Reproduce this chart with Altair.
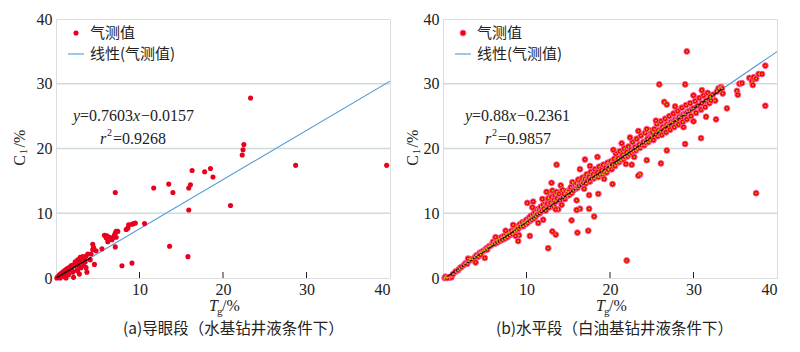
import altair as alt
import pandas as pd

# ---------------- data ----------------
# Panel (a): 导眼段
a_tg = [39.6, 28.7, 23.3, 22.5, 22.4, 22.3, 20.9, 18.8, 18.5, 17.8, 16.3, 16.1, 15.9, 15.9, 15.8,
        14.0, 13.5, 13.6, 11.7, 10.6, 9.5, 9.3, 9.1, 8.7, 8.6, 8.4, 9.1, 7.9, 7.1, 7.2, 7.4, 7.1,
        7.0, 7.2, 7.1, 6.8, 6.4, 6.1, 5.8, 6.0, 6.2, 6.7, 5.5, 4.4, 4.5, 4.8, 4.4, 4.6, 3.7, 4.1,
        4.2, 3.8, 3.6, 3.4, 3.2, 3.0, 2.9, 2.8, 2.6, 2.5, 2.4, 2.3, 2.2, 2.0, 1.9, 1.8, 1.7, 1.6,
        1.5, 1.4, 1.3, 1.2, 1.1, 1.0, 0.9, 0.8, 0.7, 0.6, 0.5, 0.4, 0.3, 0.2, 0.1, 0.5, 1.0, 1.5,
        2.0, 2.5, 3.0, 3.3, 2.1, 1.2, 2.8, 3.5, 2.7, 1.9, 3.6, 2.6]
a_c1 = [17.4, 17.4, 27.8, 20.6, 19.8, 19.0, 11.2, 15.6, 16.9, 16.4, 16.6, 14.4, 13.9, 10.5, 3.3,
        13.2, 14.5, 4.9, 13.9, 8.4, 8.5, 8.4, 8.3, 8.2, 7.7, 7.5, 2.3, 1.9, 13.2, 7.2, 7.2, 6.9,
        6.6, 6.3, 4.8, 6.2, 6.3, 6.5, 6.6, 6.2, 5.6, 5.9, 4.5, 5.2, 4.7, 4.2, 4.4, 2.1, 0.9, 2.8,
        3.7, 3.7, 3.4, 3.1, 3.3, 2.9, 3.2, 2.6, 2.8, 2.4, 2.1, 2.5, 1.9, 2.0, 1.7, 1.9, 1.4, 1.6,
        1.2, 1.5, 1.0, 1.3, 0.8, 1.1, 0.6, 0.9, 0.4, 0.7, 0.3, 0.5, 0.1, 0.2, 0.0, 0.0, 0.2, 0.5,
        0.9, 1.2, 1.6, 2.0, 0.1, 0.0, 0.6, 2.5, 1.9, 1.1, 1.6, 1.1]

# Panel (b): 水平段
b_tg = [0.2, 0.4, 0.6, 0.8, 1.0, 0.3, 0.5, 1.2, 1.5, 1.8, 2.0, 2.2, 2.5, 2.7, 2.9, 3.1, 3.3, 3.0,
        3.5, 3.8, 4.0, 4.2, 4.4, 4.6, 4.8, 5.0, 5.2, 4.5,
        5.3, 5.5, 5.7, 5.9, 6.0, 6.2, 6.4, 6.5, 6.7, 6.8, 7.0, 7.1, 7.3, 7.4, 7.6, 7.7, 7.9, 8.0,
        8.2, 8.3, 8.5, 8.6, 8.8, 8.9, 9.0, 9.2, 9.3, 9.5, 9.6, 9.8, 9.9, 8.4, 9.1, 8.7, 7.5, 6.3,
        10.0, 10.1, 10.3, 10.4, 10.5, 10.6, 10.8, 10.9, 11.0, 11.1, 11.2, 11.3, 11.5, 11.6, 11.7,
        11.8, 12.0, 12.1, 12.2, 12.3, 12.5, 12.6, 12.7, 12.8, 12.9, 13.0, 13.1, 13.2, 13.3, 13.4,
        13.5, 13.6, 13.7, 13.8, 13.9, 14.0, 14.1, 14.2, 14.3, 14.4, 14.5, 14.6, 14.8, 14.9, 11.4,
        12.0, 10.7, 11.9, 13.0, 12.4, 13.3, 13.5,
        15.0, 15.1, 15.3, 15.4, 15.5, 15.6, 15.8, 15.9, 16.0, 16.1, 16.2, 16.3, 16.5, 16.6, 16.7,
        16.8, 17.0, 17.1, 17.2, 17.3, 17.5, 17.6, 17.7, 17.8, 18.0, 18.1, 18.2, 18.3, 18.5, 18.6,
        18.7, 18.8, 19.0, 19.1, 19.2, 19.3, 19.5, 19.6, 19.7, 19.8, 19.9, 16.4, 17.0, 18.5, 19.3,
        17.6, 16.9,
        20.0, 20.1, 20.2, 20.3, 20.5, 20.6, 20.7, 20.8, 21.0, 21.1, 21.2, 21.3, 21.5, 21.6, 21.7,
        21.8, 22.0, 22.1, 22.2, 22.3, 22.5, 22.6, 22.7, 22.8, 23.0, 23.1, 23.2, 23.3, 23.5, 23.6,
        23.7, 23.8, 24.0, 24.1, 24.2, 24.3, 24.5, 24.6, 24.7, 24.8, 24.9, 20.4, 21.4, 22.4, 23.4,
        24.4, 22.9, 21.9,
        25.0, 25.1, 25.2, 25.3, 25.5, 25.6, 25.7, 25.8, 26.0, 26.1, 26.2, 26.3, 26.5, 26.6, 26.7,
        26.8, 27.0, 27.1, 27.2, 27.3, 27.5, 27.6, 27.7, 27.8, 28.0, 28.1, 28.2, 28.3, 28.5, 28.6,
        28.7, 28.8, 29.0, 29.1, 29.2, 29.3, 29.5, 29.6, 29.7, 29.8, 30.0, 30.2, 30.3, 30.5, 30.7,
        30.9, 31.0, 31.2, 31.4, 31.5, 31.7, 31.9, 32.0, 32.3, 32.6, 32.8, 33.0, 33.3, 33.5, 26.5,
        26.8, 31.0, 32.0, 25.5, 28.8, 30.0, 27.8,
        29.2, 25.9, 29.0, 38.6, 38.6, 37.5, 29.0, 30.9, 34.0, 32.7, 31.5, 30.0, 26.8, 26.1, 24.4,
        23.6, 23.4, 22.6, 22.0, 20.3, 18.6, 18.1, 17.5, 17.4, 17.5, 16.4, 16.1, 15.4, 16.0, 16.0,
        13.6, 12.6, 13.5, 13.1, 10.4, 10.8, 10.1, 9.0, 5.0, 3.9,
        35.2, 35.3, 35.5, 35.8, 36.7, 37.0, 37.2, 37.5, 37.8, 38.2, 37.1, 33.4, 32.1]
b_c1 = [0.0, 0.1, 0.1, 0.1, 0.1, 0.2, 0.0, 0.6, 1.0, 1.2, 1.5, 1.7, 2.0, 2.3, 2.2, 2.6, 2.9, 3.0,
        2.9, 3.2, 3.5, 3.3, 3.9, 4.0, 4.2, 4.3, 4.6, 3.6,
        4.4, 4.9, 5.0, 5.2, 5.6, 5.3, 5.9, 5.5, 6.1, 5.7, 6.3, 5.9, 6.5, 6.1, 6.8, 6.3, 7.0, 6.6,
        7.3, 6.8, 7.6, 7.2, 7.4, 8.0, 7.6, 8.3, 7.9, 8.6, 8.0, 8.7, 8.3, 8.2, 6.6, 6.5, 7.3, 6.3,
        9.0, 8.5, 9.3, 8.8, 9.6, 9.0, 9.8, 9.2, 10.2, 9.5, 10.6, 9.8, 10.5, 10.0, 11.0,
        10.3, 11.3, 10.7, 11.8, 10.4, 11.5, 12.3, 10.9, 13.0, 11.6, 12.5, 13.5, 11.2, 12.0, 12.8,
        11.8, 13.3, 12.3, 10.6, 13.0, 12.0, 14.3, 11.3, 13.6, 12.5, 13.0, 12.2, 13.4, 12.7, 8.5,
        9.0, 10.9, 12.2, 14.7, 13.3, 11.0, 10.6,
        13.3, 12.8, 14.0, 13.1, 14.8, 13.5, 14.3, 13.8, 14.6, 13.9, 15.2, 14.2, 14.9, 14.4, 15.5,
        14.7, 15.3, 14.6, 16.0, 15.0, 15.6, 14.9, 16.4, 15.3, 16.0, 15.4, 16.8, 15.7, 16.3, 15.6,
        17.2, 16.0, 16.6, 16.0, 17.5, 16.4, 17.0, 16.3, 17.8, 16.7, 17.4, 16.8, 18.3, 18.7, 15.3,
        17.3, 13.8,
        17.2, 18.0, 16.8, 17.6, 18.4, 17.3, 19.2, 17.8, 18.5, 17.9, 19.6, 18.2, 19.0, 18.3, 20.0,
        18.7, 19.4, 18.8, 20.3, 19.1, 19.8, 19.3, 21.0, 19.6, 20.2, 19.7, 21.5, 20.0, 20.6, 20.1,
        22.0, 20.5, 21.0, 20.5, 22.4, 20.9, 21.5, 21.0, 22.8, 21.3, 22.0, 19.8, 20.8, 21.7, 22.7,
        23.0, 18.7, 17.6,
        21.8, 22.5, 21.3, 23.0, 22.2, 23.8, 21.9, 22.8, 22.6, 24.2, 22.1, 23.3, 23.0, 24.6, 22.5,
        23.7, 23.5, 25.0, 22.9, 24.1, 24.0, 25.4, 23.3, 24.5, 24.4, 25.8, 23.7, 24.9, 24.8, 26.3,
        24.1, 25.3, 25.3, 26.7, 24.5, 25.7, 25.8, 27.0, 25.0, 26.1, 26.2, 27.3, 25.5, 26.6, 27.8,
        26.0, 27.0, 28.2, 26.4, 27.4, 28.6, 27.0, 27.8, 28.3, 27.4, 28.8, 29.3, 29.5, 28.5, 27.2,
        26.8, 29.0, 28.0, 24.3, 23.3, 28.2, 26.5,
        35.0, 29.9, 29.9, 32.8, 26.6, 13.1, 20.7, 21.6, 26.2, 24.5, 24.9, 24.2, 19.7, 17.7, 18.2,
        16.0, 15.8, 17.5, 2.7, 14.5, 13.0, 9.5, 10.7, 7.3, 12.8, 10.7, 7.0, 8.9, 12.0, 10.5,
        17.5, 4.6, 6.7, 7.2, 6.5, 11.8, 11.6, 5.7, 3.1, 2.4,
        28.9, 28.3, 30.0, 30.1, 30.9, 30.4, 31.0, 30.8, 31.5, 31.5, 29.8, 29.3, 27.4]

# fitted lines: slope, intercept, black-segment end
fits = {"a": (0.7603, -0.0157, 4.2), "b": (0.88, -0.2361, 33.5)}
eq_text = {"a": ("0.7603", "0.0157", "0.9268"), "b": ("0.88", "0.2361", "0.9857")}
captions = {"a": "(a)导眼段（水基钻井液条件下）", "b": "(b)水平段（白油基钻井液条件下）"}

x_ticks = [10, 20, 30, 40]
y_ticks = [0, 10, 20, 30, 40]
grid_y = [10, 20, 30]
inner_ticks = [10, 20, 30]

W, H = 334, 259
SERIF = "Liberation Serif, Times New Roman, DejaVu Serif, serif"
CJK = "Noto Sans CJK SC"
BLUE = "#4f9bd9"
RED = "#e8001e"


def panel(key, tg, c1, cap_dx, ytitle_dx):
    slope, icpt, bend = fits[key]
    pts = pd.DataFrame({"tg": tg, "c1": c1})
    xs = alt.Scale(domain=[0, 40], nice=False)
    ys = alt.Scale(domain=[0, 40], nice=False)
    xax = alt.Axis(values=x_ticks, title=None, grid=False, ticks=False, domain=False,
                   labelFont=SERIF, labelFontSize=16, labelColor="#222", labelPadding=3)
    yax = alt.Axis(values=y_ticks, title=None, grid=False, ticks=False, domain=False,
                   labelFont=SERIF, labelFontSize=16, labelColor="#222", labelPadding=4,
                   minExtent=40, maxExtent=40)

    grid = alt.Chart(pd.DataFrame({"g": grid_y})).mark_rule(color="#cfdada", strokeWidth=1.5).encode(
        y=alt.Y("g:Q", scale=ys, axis=yax))
    ticks = alt.Chart(pd.DataFrame({"t": inner_ticks})).mark_rule(color="#222", strokeWidth=1).encode(
        x=alt.X("t:Q", scale=xs, axis=xax), y=alt.value(H), y2=alt.value(H - 6))

    blue = alt.Chart(pd.DataFrame({"x": [0.0, 40.0]}).assign(y=lambda d: slope * d.x + icpt)).mark_line(
        color=BLUE, strokeWidth=1.1, clip=True).encode(
        x=alt.X("x:Q", scale=xs, axis=xax), y=alt.Y("y:Q", scale=ys, axis=yax))
    black = alt.Chart(pd.DataFrame({"x": [0.0, bend]}).assign(y=lambda d: slope * d.x + icpt)).mark_line(
        color="#111", strokeWidth=1.3, clip=True).encode(
        x=alt.X("x:Q", scale=xs), y=alt.Y("y:Q", scale=ys))

    if key == "a":
        dots = alt.Chart(pts).mark_circle(color=RED, size=26, opacity=1).encode(
            x=alt.X("tg:Q", scale=xs, axis=xax), y=alt.Y("c1:Q", scale=ys, axis=yax))
        layers = [grid, blue, dots, black, ticks]
        leg_dot = alt.Chart(pd.DataFrame({"k": [1]})).mark_circle(color=RED, size=26, opacity=1).encode(
            x=alt.value(20), y=alt.value(14))
    else:
        dots = alt.Chart(pts).mark_point(filled=True, fill="#f00000", stroke="#ff5a9a", strokeWidth=1,
                                         size=34, opacity=1, fillOpacity=1).encode(
            x=alt.X("tg:Q", scale=xs, axis=xax), y=alt.Y("c1:Q", scale=ys, axis=yax))
        cores = alt.Chart(pts).mark_circle(color="#b7c400", size=3, opacity=1).encode(
            x=alt.X("tg:Q", scale=xs), y=alt.Y("c1:Q", scale=ys))
        layers = [grid, blue, dots, black, cores, ticks]
        leg_dot = alt.Chart(pd.DataFrame({"k": [1]})).mark_point(
            filled=True, fill="#f00000", stroke="#ff5a9a", strokeWidth=1, size=34, opacity=1).encode(
            x=alt.value(20), y=alt.value(14))

    def txt(s, x, y, font=SERIF, size=16, style="normal", align="left", angle=0, color="#222"):
        kw = dict(text=s, font=font, fontSize=size, fontStyle=style, align=align,
                  baseline="middle", color=color)
        if angle:
            kw["angle"] = angle
        return alt.Chart(pd.DataFrame({"k": [1]})).mark_text(**kw).encode(
            x=alt.value(x), y=alt.value(y))

    leg_line = alt.Chart(pd.DataFrame({"k": [1]})).mark_rule(color=BLUE, strokeWidth=1.1).encode(
        x=alt.value(12), x2=alt.value(28), y=alt.value(35))
    s, i, r2 = eq_text[key]
    ex = 17 if key == "a" else 22
    rx = 44 if key == "a" else 42
    ndig = len(s) - 1
    eq_w = 9 + 8 * ndig + 4
    texts = [
        leg_dot, leg_line,
        txt("气测值", 34, 14, font=CJK, size=15),
        txt("线性(气测值)", 34, 35, font=CJK, size=15),
        txt("y", ex, 97, style="italic"),
        txt("=" + s, ex + 7, 97),
        txt("x", ex + 7 + eq_w, 97, style="italic"),
        txt("\u2212" + i, ex + 15 + eq_w, 97),
        txt("r", rx, 120, style="italic"),
        txt("2", rx + 7, 114, size=10),
        txt("=" + r2, rx + 13, 120),
        txt("T", W / 2 - 14, 287, style="italic"),
        txt("g", W / 2 - 6, 293, size=11),
        txt("/%", W / 2 - 1, 287),
        txt("C", ytitle_dx, H / 2 + 12, angle=270, align="center"),
        txt("1", ytitle_dx + 4, H / 2 + 3, size=11, angle=270, align="center"),
        txt("/%", ytitle_dx, H / 2 - 10, angle=270, align="center"),
        txt(captions[key], cap_dx, 310, font=CJK, size=15.5),
    ]
    return alt.layer(*layers, *texts).properties(width=W, height=H)


pa = panel("a", a_tg, a_c1, cap_dx=67, ytitle_dx=-36)
pb = panel("b", b_tg, b_c1, cap_dx=53, ytitle_dx=-30)

chart = alt.hconcat(pa, pb, spacing=10).properties(
    padding={"left": 11, "top": 10, "right": 5, "bottom": 5}
).configure_view(stroke="#1a1a1a", strokeWidth=1.5).configure(background="white")

chart.save("out.html", embed_options={"renderer": "svg", "actions": False})
